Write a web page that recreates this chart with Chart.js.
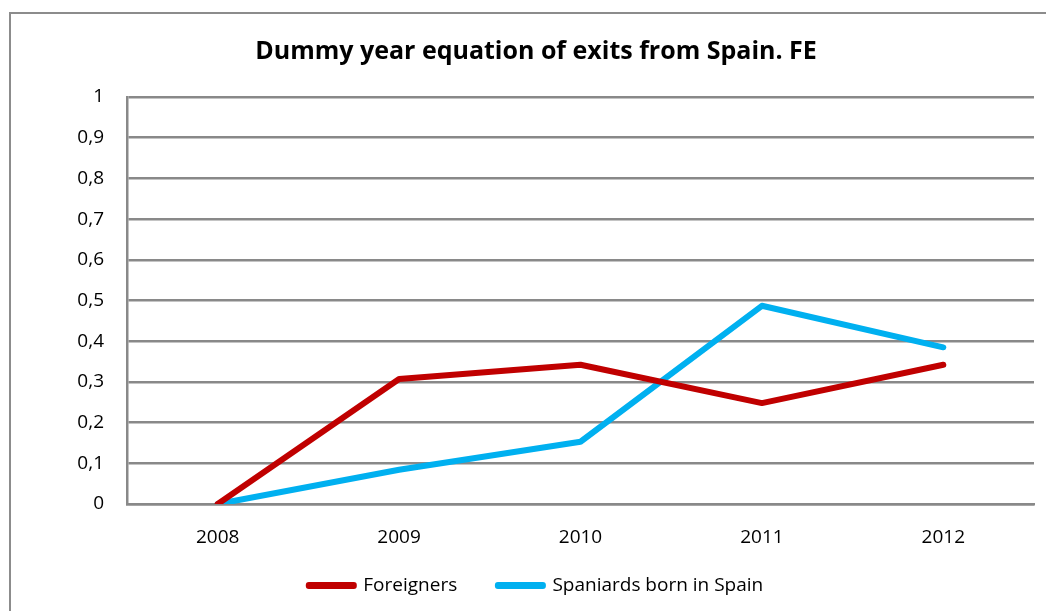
<!DOCTYPE html>
<html>
<head>
<meta charset="utf-8">
<script src="https://cdn.jsdelivr.net/npm/chart.js@4"></script>
<style>
  html, body { margin: 0; padding: 0; background: #fff; overflow: hidden; }
  #frame { position: absolute; left: 9px; top: 12px; width: 1100px; height: 700px; border: 2px solid #8c8c8c; }
  #wrap { position: absolute; left: 0; top: 0; width: 1046px; height: 611px; }
</style>
</head>
<body>
<div id="frame"></div>
<div id="wrap"><canvas id="chart" width="1046" height="611"></canvas></div>
<script>
const TITLE = "Dummy year equation of exits from Spain. FE"
const YEARS = ["2008", "2009", "2010", "2011", "2012"]
const FOREIGNERS = [0, 0.307, 0.342, 0.248, 0.342]
const SPANIARDS  = [0, 0.084, 0.153, 0.487, 0.385]
const Y_TICKS = [0, 0.1, 0.2, 0.3, 0.4, 0.5, 0.6, 0.7, 0.8, 0.9, 1]

const FONT = "'Open Sans', 'Liberation Sans', sans-serif"
const GRID = "#898989"

const line = (label, data, color) => ({
  label,
  data,
  borderColor:     color,
  backgroundColor: color,
  borderWidth:     6,
  borderCapStyle:  "round",
  borderJoinStyle: "round",
  pointRadius:     0,
  tension:         0,
  fill:            false,
})

new Chart(document.getElementById("chart"), {
  type: "line",
  data: {
    labels: YEARS,
    datasets: [
      line("Foreigners", FOREIGNERS, "#c00000"),
      line("Spaniards born in Spain", SPANIARDS, "#00b0f0"),
    ],
  },
  options: {
    responsive: false,
    animation: false,
    layout: { padding: { left: 38, right: 12, top: 0, bottom: 6 } },
    plugins: {
      title: {
        display: true,
        text: TITLE,
        color: "#000",
        font: { family: FONT, size: 25, weight: "bold" },
        padding: { top: 37, bottom: 30 },
      },
      legend: {
        position: "bottom",
        labels: {
          color: "#000",
          font: { family: FONT, size: 19 },
          boxWidth: 45,
          boxHeight: 1,
          padding: 16,
          // wider gap between the two entries than the vertical padding allows
          generateLabels: chart => Chart.defaults.plugins.legend.labels.generateLabels(chart)
            .map((item, i) => i === 0 ? { ...item, text: item.text + "     " } : item),
        },
      },
      tooltip: { enabled: false },
    },
    scales: {
      x: {
        offset: true,
        grid: { display: false, drawTicks: false },
        border: { color: GRID, width: 2.5 },
        ticks: { color: "#000", font: { family: FONT, size: 19 }, padding: 22 },
        afterFit: s => { s.height = 56 },
      },
      y: {
        min: 0,
        max: 1,
        afterBuildTicks: s => { s.ticks = Y_TICKS.map(v => ({ value: v })) },
        grid: { color: GRID, lineWidth: 2.5, drawTicks: false },
        border: { color: GRID, width: 2.5 },
        ticks: {
          color: "#000",
          font: { family: FONT, size: 19 },
          padding: 23,
          callback: v => String(v).replace(".", ","),
        },
        afterFit: s => { s.width = 89 },
      },
    },
  },
})
</script>
</body>
</html>
